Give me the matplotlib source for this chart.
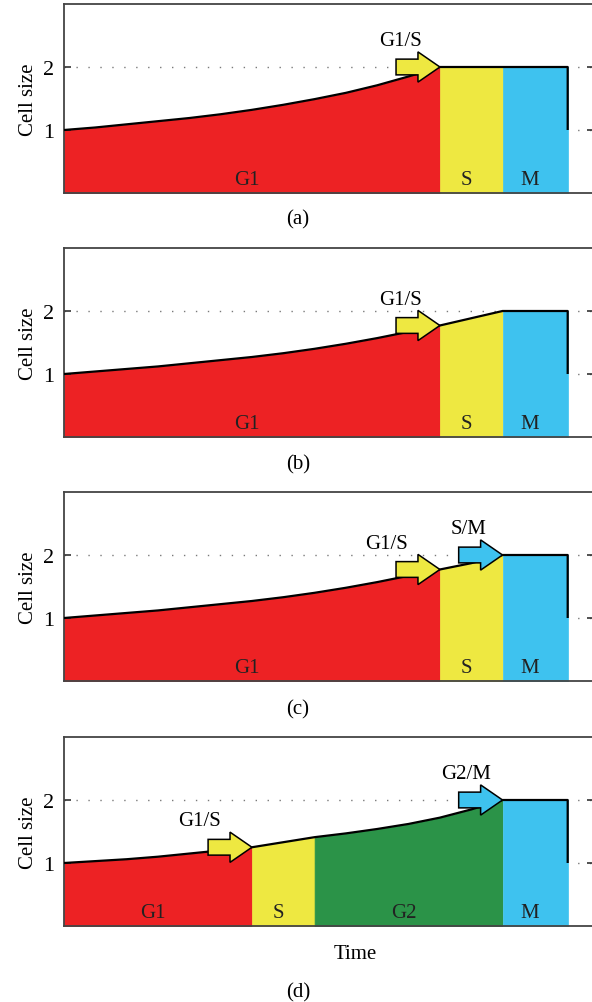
"""
Cell size over one cell cycle, four checkpoint models.
"""

import numpy as np
import matplotlib
matplotlib.use("Agg")
import matplotlib.pyplot as plt
from matplotlib.patches import FancyArrow

plt.rcParams["font.family"] = ["Liberation Serif", "DejaVu Serif"]

RED = "#ED2224"
YELLOW = "#EEE841"
BLUE = "#3EC2EF"
GREEN = "#2B9348"

# time (arbitrary units) and cell size
time_abc = [0, 0.5, 1, 1.5, 2, 2.5, 3, 3.5, 4, 4.5, 5, 5.5, 6, 7, 8.04]
size_a = [1.00, 1.04, 1.09, 1.14, 1.19, 1.25, 1.32, 1.40, 1.49, 1.59, 1.71, 1.85, 2.00, 2.00, 2.00]
size_b = [1.00, 1.04, 1.08, 1.12, 1.17, 1.22, 1.27, 1.33, 1.40, 1.48, 1.57, 1.67, 1.77, 2.00, 2.00]
time_c = [0, 0.5, 1, 1.5, 2, 2.5, 3, 3.5, 4, 4.5, 5, 5.5, 6, 6.5, 7, 8.04]
size_c = [1.00, 1.04, 1.08, 1.12, 1.17, 1.22, 1.27, 1.33, 1.40, 1.48, 1.57, 1.67, 1.77, 1.87, 2.00, 2.00]
time_d = [0, 0.5, 1, 1.5, 2, 2.5, 3, 3.5, 4, 4.5, 5, 5.5, 6, 6.5, 7, 8.04]
size_d = [1.00, 1.03, 1.06, 1.10, 1.15, 1.20, 1.25, 1.33, 1.41, 1.47, 1.54, 1.62, 1.72, 1.85, 2.00, 2.00]
birth_size = 1.0

# phases: names, boundaries (time), colours
phases_abc = ["G1", "S", "M"]
bounds_abc = [0, 6, 7, 8.04]
colors_abc = [RED, YELLOW, BLUE]
phases_d = ["G1", "S", "G2", "M"]
bounds_d = [0, 3, 4, 7, 8.04]
colors_d = [RED, YELLOW, GREEN, BLUE]

# checkpoints: (label, time, colour, label offset left of the tip)
checks_a = [("G1/S", 6, YELLOW, 0.63)]
checks_b = [("G1/S", 6, YELLOW, 0.63)]
checks_c = [("G1/S", 6, YELLOW, 0.85), ("S/M", 7, BLUE, 0.55)]
checks_d = [("G1/S", 3, YELLOW, 0.83), ("G2/M", 7, BLUE, 0.59)]

FS = 15


def drawCycle(ax, times, sizes, bounds, names, colors, checks):
    """
    Draw one cell cycle: coloured phases under the size curve plus checkpoint arrows.
    """
    times = np.array(times, dtype=float)
    sizes = np.array(sizes, dtype=float)
    for y in (1, 2):
        ax.axhline(y, color="#7a7a7a", lw=1.0, ls=(0, (1, 7.6)), zorder=0)
    for name, start, end, col in zip(names, bounds[:-1], bounds[1:], colors):
        m = (times >= start) & (times <= end)
        ax.fill_between(times[m], 0, sizes[m], facecolor=col, edgecolor=col, lw=0.5, zorder=1)
        ax.text((start + end) / 2 - 0.08, 0.21, name, ha="center", va="center",
                fontsize=FS, color="#222222", zorder=2)
    ax.plot(list(times) + [times[-1]], list(sizes) + [birth_size], color="black",
            lw=1.6, zorder=3, solid_joinstyle="round", solid_capstyle="butt")
    for label, t, col, off in checks:
        s = sizes[list(times).index(t)]
        ax.add_patch(FancyArrow(t - 0.70, s, 0.70, 0, width=0.25, head_width=0.48,
                                head_length=0.35, length_includes_head=True,
                                facecolor=col, edgecolor="black", lw=1.1, zorder=4))
        ax.text(t - off, s + 0.42, label, ha="center", va="center", fontsize=FS, zorder=5)

    ax.set_xlim(0, 8.46)
    ax.set_ylim(0, 3)
    ax.set_xticks([])
    ax.set_yticks([1, 2])
    ax.set_yticklabels(["1", "2"], fontsize=16)
    ax.tick_params(axis="y", direction="in", length=5, width=1.2, color="#333333",
                   left=True, right=True, pad=7)
    for sp in ax.spines.values():
        sp.set_color("#444444")
        sp.set_linewidth(1.3)
    ax.set_ylabel("Cell size", fontsize=FS)
    ax.yaxis.set_label_coords(-0.049, 0.5)


W, H = 592, 1003
fig = plt.figure(figsize=(W / 100, H / 100), dpi=100)
panels = [
    (194, time_abc, size_a, bounds_abc, phases_abc, colors_abc, checks_a, "(a)", 220),
    (438, time_abc, size_b, bounds_abc, phases_abc, colors_abc, checks_b, "(b)", 465),
    (682, time_c, size_c, bounds_abc, phases_abc, colors_abc, checks_c, "(c)", 710),
    (927, time_d, size_d, bounds_d, phases_d, colors_d, checks_d, "(d)", 993),
]
for bottom, t, s, b, n, c, chk, letter, ly in panels:
    ax = fig.add_axes([64 / W, 1 - bottom / H, 530 / W, 189 / H])
    drawCycle(ax, t, s, b, n, c, chk)
    fig.text(298 / W, 1 - ly / H, letter, ha="center", va="center", fontsize=FS)

fig.text(355 / W, 1 - 955 / H, "Time", ha="center", va="center", fontsize=FS)
fig.savefig("out.png", dpi=100)
